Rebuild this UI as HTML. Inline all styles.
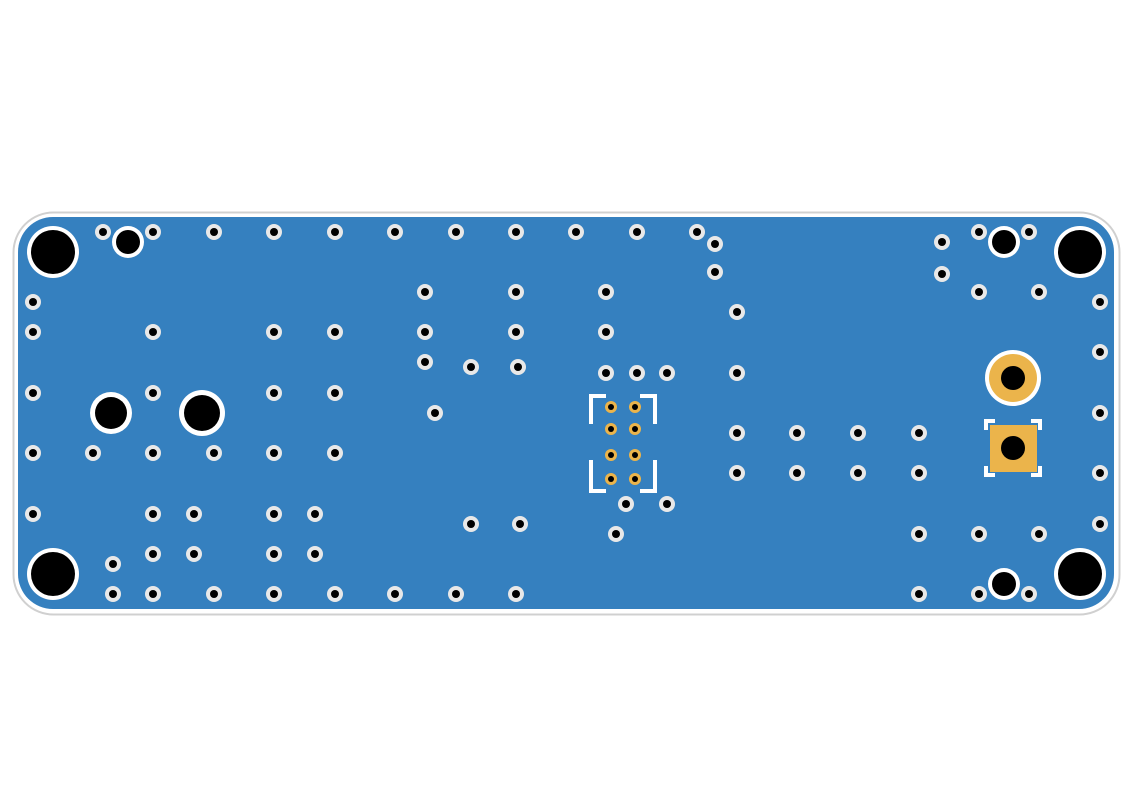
<!DOCTYPE html>
<html><head><meta charset="utf-8"><style>html,body{margin:0;padding:0;background:#fff}svg{display:block}</style></head>
<body>
<svg id="pcb" width="1123" height="794" viewBox="0 0 1123 794" xmlns="http://www.w3.org/2000/svg">
<rect x="13.5" y="212.5" width="1106" height="402" rx="40" fill="#fff" stroke="#d0d0d0" stroke-width="2"/>
<rect x="18" y="217" width="1096" height="392" rx="35" fill="#3580bf"/>
<g id="vias"></g>
<g id="holes"></g>
<g id="hdr">
<path d="M606 396H591V424M591 460V491H606" fill="none" stroke="#fff" stroke-width="4"/>
<path d="M640 396H655V424M655 460V491H640" fill="none" stroke="#fff" stroke-width="4"/>
</g>
<g>
<circle cx="1013" cy="378" r="28" fill="#fff"/><circle cx="1013" cy="378" r="24" fill="#ebb44b"/><circle cx="1013" cy="378" r="12" fill="#000"/>
<path d="M986 430V421H995M1031 421H1040V430M986 466V475H995M1031 475H1040V466" fill="none" stroke="#fff" stroke-width="4"/>
<rect x="990" y="425" width="47" height="47" fill="#ebb44b"/><circle cx="1013" cy="448" r="12" fill="#000"/>
</g>
<script>
const NS='http://www.w3.org/2000/svg';
const viaPts=[[103,232],[153,232],[214,232],[274,232],[335,232],[395,232],[456,232],[516,232],[576,232],[637,232],[697,232],[715,244],[715,272],[942,242],[942,274],[979,232],[1029,232],[979,292],[1039,292],[1100,302],[1100,352],[1100,413],[1100,473],[1100,524],[919,534],[979,534],[1039,534],[919,594],[979,594],[1029,594],
[33,302],[33,332],[33,393],[33,453],[33,514],[153,332],[274,332],[335,332],[153,393],[274,393],[335,393],[93,453],[153,453],[214,453],[274,453],[335,453],[153,514],[194,514],[274,514],[315,514],[153,554],[194,554],[274,554],[315,554],[113,564],[113,594],[153,594],[214,594],[274,594],[335,594],[395,594],[456,594],[516,594],
[425,292],[516,292],[606,292],[425,332],[516,332],[606,332],[425,362],[471,367],[518,367],[606,373],[637,373],[667,373],[737,312],[737,373],[435,413],[737,433],[797,433],[858,433],[919,433],[737,473],[797,473],[858,473],[919,473],[626,504],[667,504],[471,524],[520,524],[616,534]];
const holePts=[[53,252,26,22],[1080,252,26,22],[53,574,26,22],[1080,574,26,22],[128,242,16,12],[1004,242,16,12],[1004,584,16,12],[111,413,21,16],[202,413,23,18]];
const pinX=[611,635];
const pinY=[407,429,455,479];
function c(g,x,y,r,f){const e=document.createElementNS(NS,'circle');e.setAttribute('cx',x);e.setAttribute('cy',y);e.setAttribute('r',r);e.setAttribute('fill',f);g.appendChild(e);return e;}
const vg=document.getElementById('vias');
viaPts.forEach(p=>{const g=document.createElementNS(NS,'g');


c(g,p[0],p[1],8,'#e8e8e8');c(g,p[0],p[1],4,'#000');vg.appendChild(g);});
const hg=document.getElementById('holes');
holePts.forEach(p=>{const g=document.createElementNS(NS,'g');


c(g,p[0],p[1],p[2],'#fff');c(g,p[0],p[1],p[3],'#000');hg.appendChild(g);});
const pg=document.getElementById('hdr');
pinY.forEach(y=>pinX.forEach(x=>{const g=document.createElementNS(NS,'g');


c(g,x,y,6,'#ebb44b');c(g,x,y,3,'#000');pg.appendChild(g);}));
</script>
</svg>
</body></html>
